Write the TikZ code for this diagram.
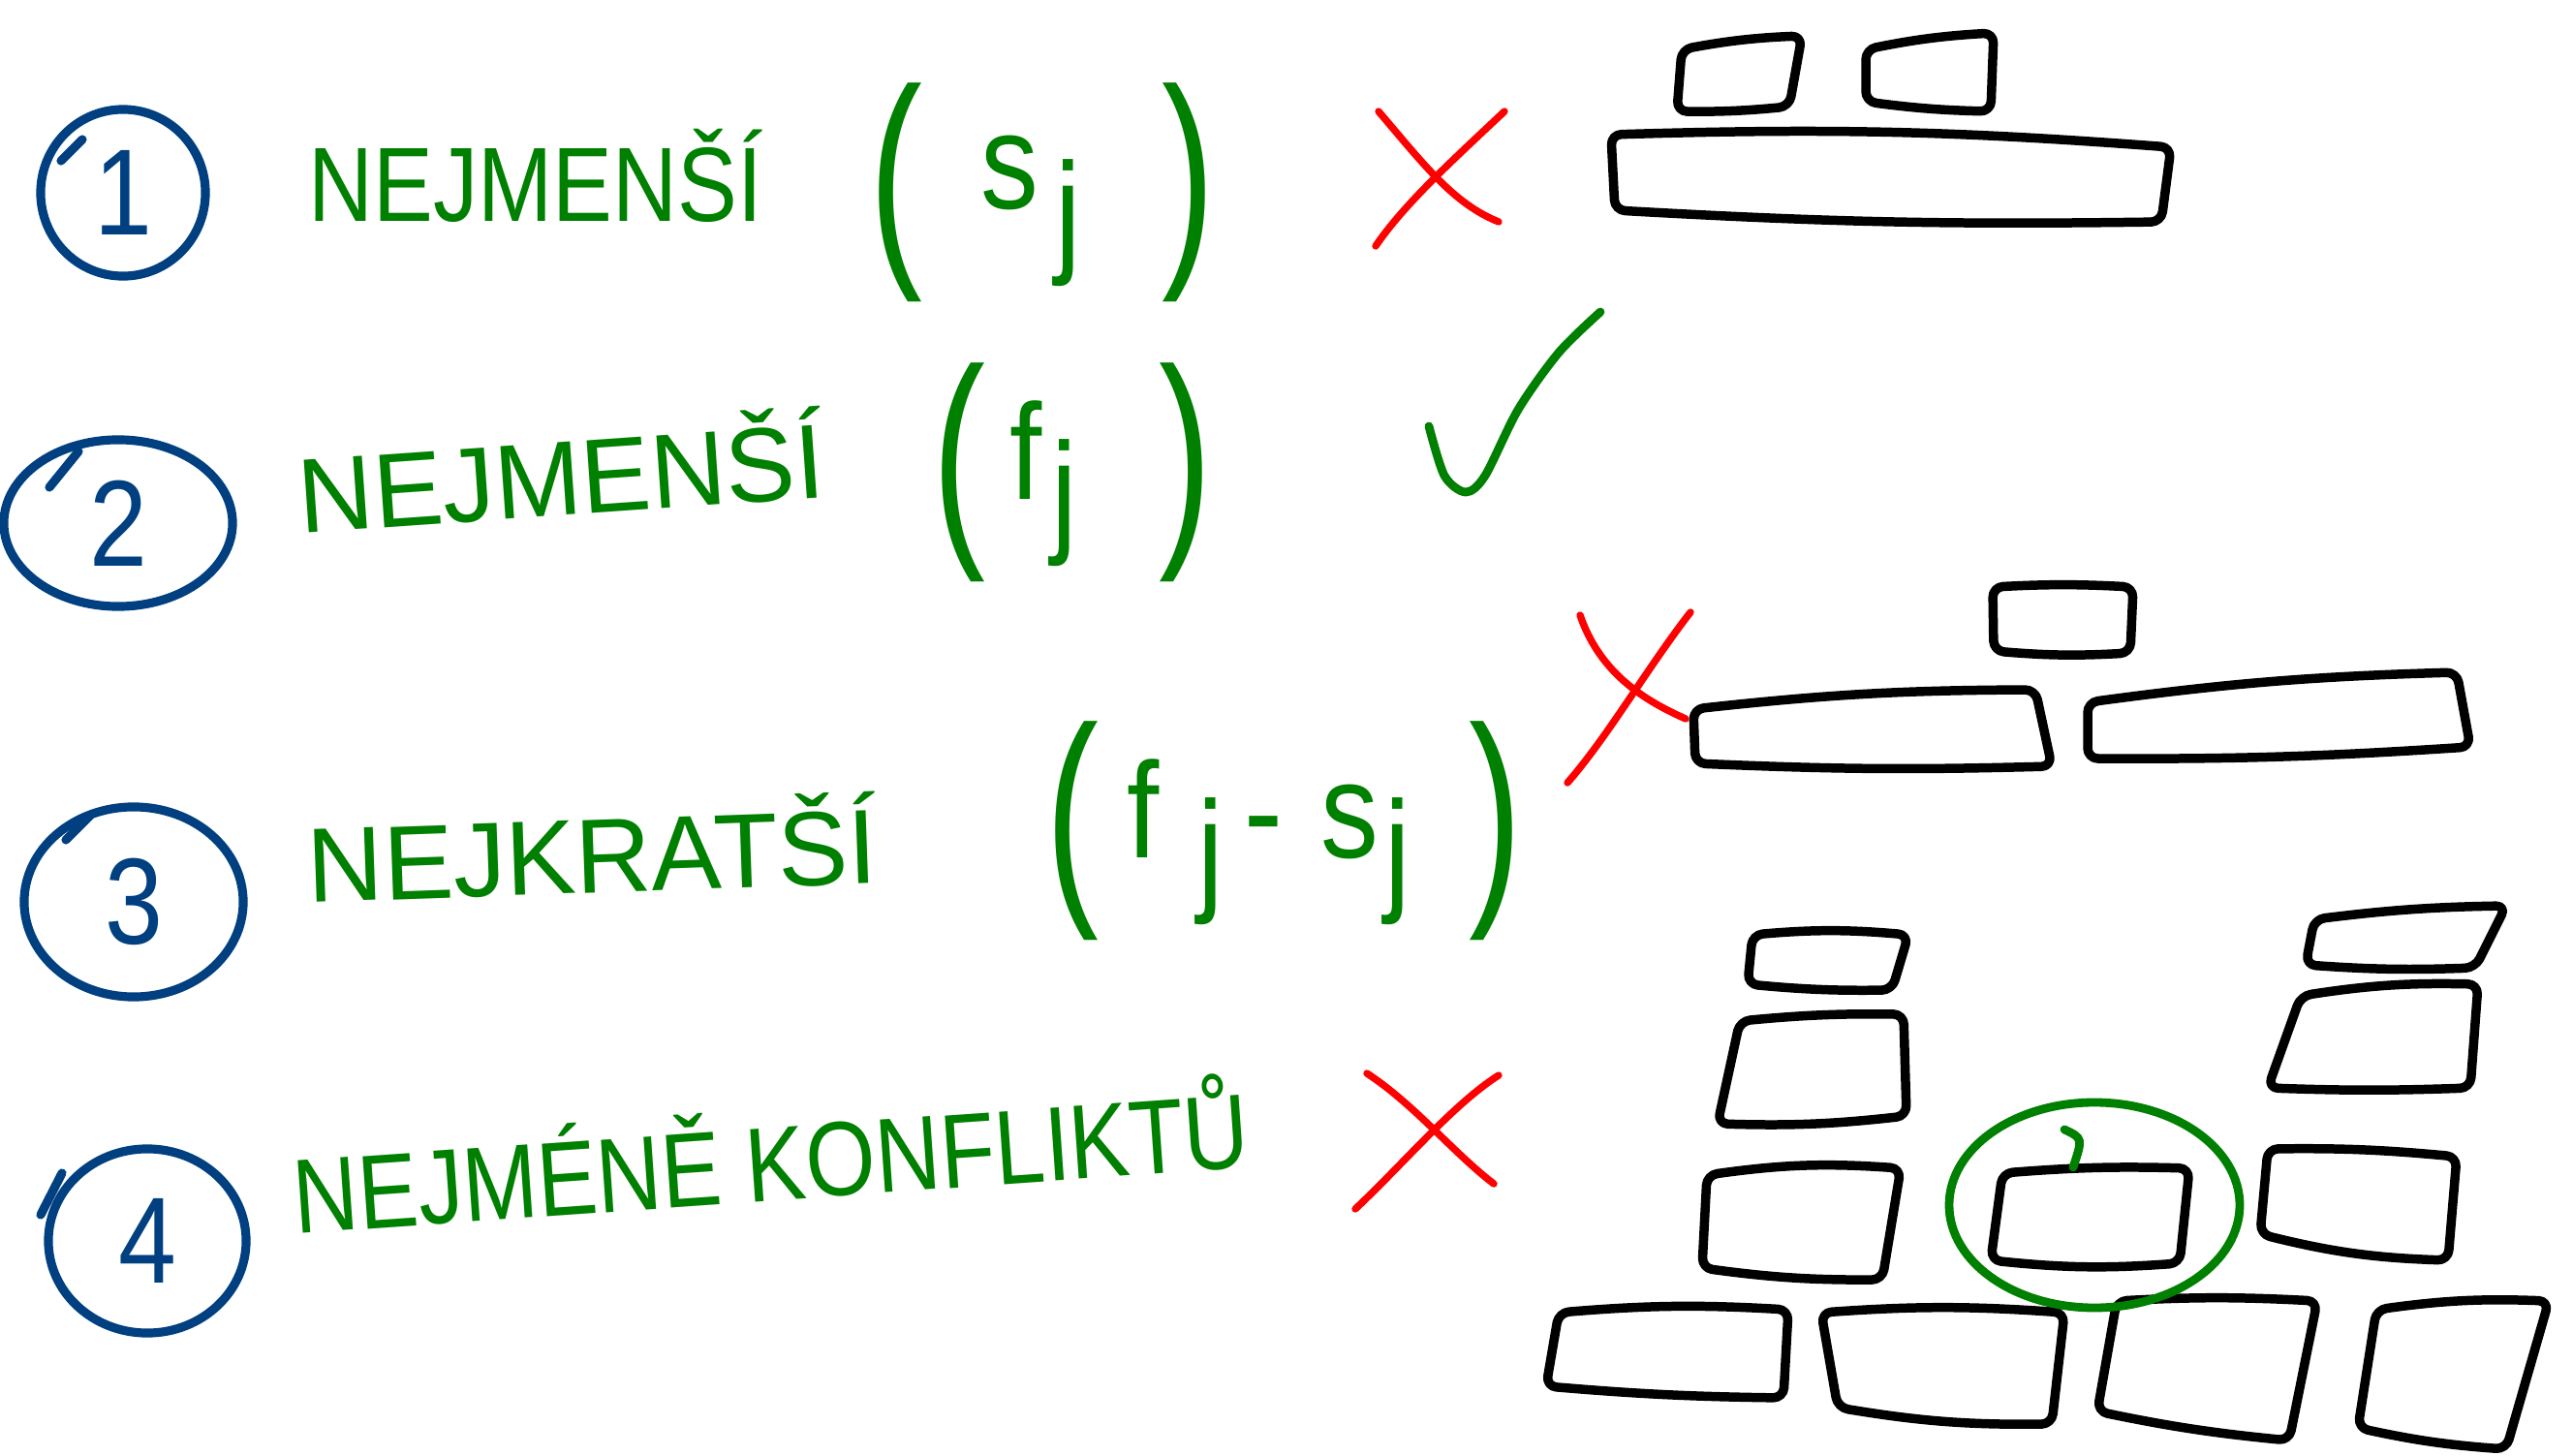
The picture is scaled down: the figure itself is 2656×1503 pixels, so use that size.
\documentclass[tikz,border=0pt]{standalone}
\usepackage{fontspec}
\setmainfont[FakeStretch=0.85]{Liberation Sans}
\usetikzlibrary{shapes.geometric}
\definecolor{modra}{RGB}{0,64,128}
\definecolor{zelena}{RGB}{0,128,0}
\definecolor{cervena}{RGB}{255,0,0}
\newcommand\dolu[1]{\raisebox{-0.4cm}{#1}}
\newcommand\zav[1]{\raisebox{-0.35cm}{\scalebox{0.8}[1]{\fontsize{69}{70}\selectfont #1}}}

\begin{document}
\begin{tikzpicture}[x=0.01cm,y=-0.01cm,
  cislo/.style={ellipse,draw=modra,line width=2.6pt,text=modra,inner sep=0pt,font=\fontsize{36}{38}\selectfont},
  tah/.style={modra,line width=2.6pt,line cap=round},
  napis/.style={text=zelena,inner sep=0pt,anchor=base west,font=\fontsize{31}{33}\selectfont},
  vzorec/.style={text=zelena,inner sep=0pt,anchor=base,font=\fontsize{40}{42}\selectfont},
  krizek/.style={cervena,line width=2.1pt,line cap=round},
  fajfka/.style={zelena,line width=2.5pt,line cap=round},
  cihla/.style={draw=black,line width=2.7pt,line join=round,line cap=round,rounded corners=3pt}]
\path[fill=white] (0,0) rectangle (2656,1503);
\useasboundingbox (0,0) rectangle (2656,1503);

\node[cislo,minimum width=1.7cm,minimum height=1.72cm] (c1) at (127,199) {1};
\node[cislo,minimum width=2.36cm,minimum height=1.72cm] (c2) at (122,540) {2};
\node[cislo,minimum width=2.26cm,minimum height=1.96cm] (c3) at (138,931) {3};
\node[cislo,minimum width=2.04cm,minimum height=1.9cm] (c4) at (152,1281) {4};
\draw[tah] (63,166) -- (85,144);
\draw[tah] (51,503) -- (81,466);
\draw[tah] (68,867) -- (93,842);
\draw[tah] (42,1254) -- (64,1211);

\node[napis] (t1) at (318,229) {NEJMENŠÍ};
\node[vzorec] (f1) at (1076,226) {\zav{(}\hspace{0.6cm}\raisebox{0.1cm}{s}\hspace{0.17cm}\dolu{j}\hspace{0.84cm}\zav{)}};
\node[napis,rotate=4,xscale=1.16] (t2) at (310,551) {NEJMENŠÍ};
\node[vzorec] (f2) at (1107,515) {\zav{(}\hspace{0.25cm}f\hspace{0.1cm}\dolu{j}\hspace{0.84cm}\zav{)}};
\node[napis,rotate=2,xscale=1.17] (t3) at (318,932) {NEJKRATŠÍ};
\node[vzorec] (f3) at (1325,885) {\zav{(}\hspace{0.3cm}f\hspace{0.39cm}\dolu{j}\hspace{0.22cm}-\hspace{0.39cm}s\hspace{0.06cm}\dolu{j}\hspace{0.6cm}\zav{)}};
\node[napis,rotate=4] (t4) at (305,1274) {NEJMÉNĚ KONFLIKTŮ};

\draw[krizek] (1423,115) .. controls (1470,170) and (1500,210) .. (1547,229);
\draw[krizek] (1553,115) .. controls (1500,165) and (1450,210) .. (1420,254);
\draw[fajfka] plot[smooth] coordinates {(1475,440) (1491,491) (1513,508) (1533,491) (1567,423) (1609,364) (1652,322)};
\draw[krizek] (1631,635) .. controls (1650,690) and (1690,720) .. (1740,742);
\draw[krizek] (1745,632) .. controls (1700,690) and (1660,760) .. (1618,808);
\draw[krizek] (1411,1108) .. controls (1460,1140) and (1500,1190) .. (1542,1222);
\draw[krizek] (1547,1110) .. controls (1500,1140) and (1450,1200) .. (1399,1248);

\draw[cihla] (1736,51) to[bend left=4] (1860,37) -- (1847,110) to[bend left=3] (1731,115) -- cycle;
\draw[cihla] (1926,51) to[bend left=4] (2058,34) -- (2055,115) to[bend left=3] (1926,105) -- cycle;
\draw[cihla] (1663,139) to[bend left=3] (2241,152) -- (2231,229) to[bend left=2] (1667,217) -- cycle;

\draw[cihla] (2057,606) to[bend left=3] (2202,606) -- (2199,674) to[bend left=4] (2058,672) -- cycle;
\draw[cihla] (1748,732) to[bend left=3] (2101,712) -- (2118,791) to[bend left=2] (1750,788) -- cycle;
\draw[cihla] (2155,725) to[bend left=3] (2536,694) -- (2550,771) to[bend left=2] (2155,783) -- cycle;

\draw[cihla] (1809,965) to[bend left=5] (1970,965) -- (1953,1022) to[bend left=3] (1804,1016) -- cycle;
\draw[cihla] (1796,1054) to[bend left=3] (1965,1047) -- (1968,1152) to[bend left=4] (1773,1160) -- cycle;
\draw[cihla] (1762,1213) to[bend left=6] (1962,1206) -- (1943,1321) to[bend left=4] (1757,1309) -- cycle;
\draw[cihla] (2067,1211) to[bend left=3] (2260,1206) -- (2250,1304) to[bend left=5] (2055,1301) -- cycle;
\draw[cihla] (2341,1186) to[bend left=3] (2536,1194) -- (2527,1301) to[bend left=6] (2333,1274) -- cycle;
\draw[cihla] (2389,949) to[bend left=3] (2587,935) -- (2555,999) to[bend left=3] (2380,996) -- cycle;
\draw[cihla] (2375,1028) to[bend left=5] (2558,1016) -- (2550,1123) to[bend left=2] (2341,1123) -- cycle;
\draw[cihla] (1609,1355) to[bend left=4] (1846,1352) -- (1841,1443) to[bend left=2] (1596,1431) -- cycle;
\draw[cihla] (1880,1355) to[bend left=4] (2131,1355) -- (2118,1470) to[bend left=5] (1897,1453) -- cycle;
\draw[cihla] (2185,1343) to[bend left=3] (2392,1343) -- (2363,1487) to[bend left=3] (2165,1457) -- cycle;
\draw[cihla] (2453,1352) to[bend left=5] (2631,1343) -- (2587,1496) to[bend left=4] (2434,1474) -- cycle;

\draw[fajfka] (2162,1244) ellipse (150 and 106);
\draw[fajfka] (2131,1166) .. controls (2150,1175) .. (2140,1205);
\end{tikzpicture}
\end{document}
